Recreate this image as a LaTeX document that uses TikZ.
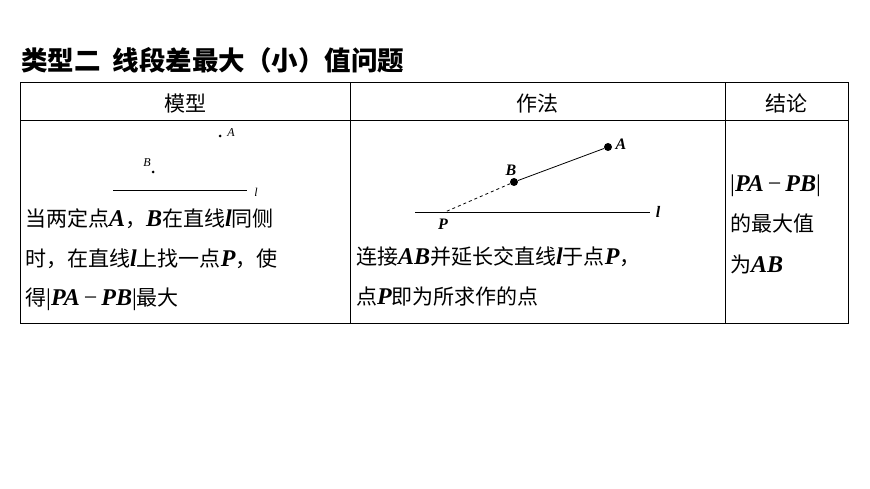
\documentclass[tikz,border=0pt]{standalone}
\usepackage{fontspec}
\setmainfont{Noto Sans CJK SC}
\newfontfamily\lserif{Liberation Serif}
\newcommand{\mv}[1]{{\lserif\bfseries\itshape\fontsize{24}{24}\selectfont #1}}
\newcommand{\mminus}{{\lserif\fontsize{24}{24}\selectfont\,−\,}}
\newcommand{\vbar}{{\lserif\fontsize{24}{24}\selectfont |}}
\begin{document}
\begin{tikzpicture}[x=1pt,y=-1pt,
  txt/.style={anchor=base west,inner sep=0pt,font=\fontsize{21}{24}\selectfont},
  hd/.style={anchor=base,inner sep=0pt,font=\fontsize{21}{24}\selectfont},
  lab/.style={inner sep=0pt,font=\lserif\itshape\fontsize{12}{12}\selectfont},
  labb/.style={inner sep=0pt,font=\lserif\bfseries\itshape\fontsize{16}{16}\selectfont},
  dot/.style={circle,fill=black,inner sep=0pt}]
\useasboundingbox (0,0) rectangle (870,489);
\node[anchor=base west,inner sep=0pt,font=\bfseries\fontsize{26.5}{30}\selectfont] (title) at (21,71) {类型二\ \ 线段差最大（小）值问题};
\draw[line width=1pt] (20,83) rectangle (848,323);
\draw[line width=0.8pt] (20,120) -- (848,120) (350,83) -- (350,323) (725,83) -- (725,323);
\node[hd] (h1) at (185,112) {模型};
\node[hd] (h2) at (537,112) {作法};
\node[hd] (h3) at (786,112) {结论};
% left diagram
\node[dot,minimum size=3pt] (a1) at (220,136) {};
\node[lab] (a1l) at (231,133) {A};
\node[dot,minimum size=3pt] (b1) at (153,172) {};
\node[lab] (b1l) at (147,163) {B};
\coordinate (l1s) at (113,190); \coordinate (l1e) at (247,190);
\draw[line width=0.7pt] (l1s) -- (l1e);
\node[lab] (l1l) at (256,192) {l};
% middle diagram
\node[dot,minimum size=8pt] (a2) at (608,147) {};
\node[dot,minimum size=8pt] (b2) at (514,182) {};
\coordinate (p2) at (445,212);
\node[labb] (a2l) at (621,144) {A};
\node[labb] (b2l) at (511,170) {B};
\node[labb] (p2l) at (443,224) {P};
\coordinate (l2s) at (415,212); \coordinate (l2e) at (650,212);
\draw[line width=0.8pt] (l2s) -- (l2e);
\node[labb] (l2l) at (658,212) {l};
\draw[line width=0.8pt] (a2) -- (b2);
\draw[line width=0.8pt,dashed] (b2) -- (p2);
% texts
\node[txt] (t1) at (25,226) {当两定点\mv{A}，\mv{B}在直线\mv{l}同侧};
\node[txt] (t2) at (25,266) {时，在直线\mv{l}上找一点\mv{P}，使};
\node[txt] (t3) at (25,305) {得\vbar\mv{PA}\mminus\mv{PB}\vbar 最大};
\node[txt] (t4) at (356,265) {连接\mv{AB}并延长交直线\mv{l}于点\mv{P}，};
\node[txt] (t5) at (356,304) {点\mv{P}即为所求作的点};
\node[txt] (t6) at (730,192) {\vbar\mv{PA}\mminus\mv{PB}\vbar};
\node[txt] (t7) at (730,232) {的最大值};
\node[txt] (t8) at (730,272) {为\mv{AB}};
\end{tikzpicture}
\end{document}
